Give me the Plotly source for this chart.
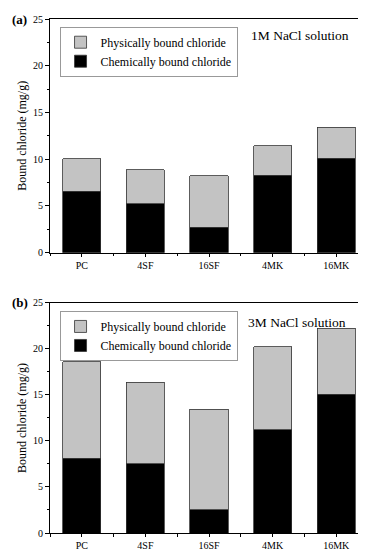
import plotly.graph_objects as go

categories = ["PC", "4SF", "16SF", "4MK", "16MK"]
total_1m = [10.05, 8.85, 8.25, 11.45, 13.4]
chem_1m = [6.55, 5.25, 2.7, 8.3, 10.1]
total_3m = [18.6, 16.4, 13.45, 20.25, 22.25]
chem_3m = [8.1, 7.5, 2.5, 11.2, 15.1]
phys_1m = [t - c for t, c in zip(total_1m, chem_1m)]
phys_3m = [t - c for t, c in zip(total_3m, chem_3m)]
yticks = [0, 5, 10, 15, 20, 25]

FONT = "Liberation Serif"
GRAY = "#c3c3c3"
xs = list(range(len(categories)))

fig = go.Figure()
line = dict(color="#333333", width=0.8)
fig.add_trace(go.Bar(x=xs, y=chem_1m, name="Chemically bound chloride", marker=dict(color="black", line=line),
                     width=0.6, xaxis="x", yaxis="y", legend="legend"))
fig.add_trace(go.Bar(x=xs, y=phys_1m, name="Physically bound chloride", marker=dict(color=GRAY, line=line),
                     width=0.6, xaxis="x", yaxis="y", legend="legend"))
fig.add_trace(go.Bar(x=xs, y=chem_3m, name="Chemically bound chloride", marker=dict(color="black", line=line),
                     width=0.6, xaxis="x2", yaxis="y2", legend="legend2"))
fig.add_trace(go.Bar(x=xs, y=phys_3m, name="Physically bound chloride", marker=dict(color=GRAY, line=line),
                     width=0.6, xaxis="x2", yaxis="y2", legend="legend2"))

def xax(anchor):
    return dict(anchor=anchor, range=[-0.5, 4.5], tickvals=xs, ticktext=categories,
                ticks="outside", ticklen=3, tickcolor="black", showline=True, linecolor="black",
                linewidth=1, mirror=True, showgrid=False, zeroline=False,
                tickfont=dict(family=FONT, size=10, color="black"),
                minor=dict(tickvals=[-0.5, 0.5, 1.5, 2.5, 3.5, 4.5], ticks="outside", ticklen=2.5, tickcolor="black"))

def yax(anchor, domain):
    return dict(anchor=anchor, domain=domain, range=[0, 25], tickvals=yticks,
                ticks="outside", ticklen=4, tickcolor="black", showline=True, linecolor="black",
                linewidth=1, mirror=True, showgrid=False, zeroline=False,
                tickfont=dict(family=FONT, size=10, color="black"),
                title=dict(text="Bound chloride (mg/g)", font=dict(family=FONT, size=12, color="black"), standoff=3),
                minor=dict(dtick=2.5, tick0=0, ticks="outside", ticklen=2.5, tickcolor="black"))

leg = dict(traceorder="reversed", bgcolor="white", bordercolor="#999999", borderwidth=1,
           font=dict(family=FONT, size=12, color="black"), xanchor="left", yanchor="top",
           itemwidth=30, tracegroupgap=0)

fig.update_layout(
    width=366, height=550,
    font=dict(family=FONT, color="black"),
    margin=dict(l=42, r=6, t=11, b=25),
    paper_bgcolor="white", plot_bgcolor="white",
    barmode="stack",
    xaxis=xax("y"), yaxis=yax("x", [0.5453, 1.0]),
    xaxis2=xax("y2"), yaxis2=yax("x2", [0.0, 0.4475]),
    legend=dict(leg, x=0.03, y=0.985),
    legend2=dict(leg, x=0.03, y=0.432),
    annotations=[
        dict(text="<b>(a)</b>", x=-0.125, y=1.0, xref="paper", yref="paper", xanchor="left", yanchor="middle",
             showarrow=False, font=dict(family=FONT, size=13, color="black")),
        dict(text="1M NaCl solution", x=0.625, y=0.967, xref="paper", yref="paper", xanchor="left", yanchor="middle",
             showarrow=False, font=dict(family=FONT, size=13.5, color="black")),
        dict(text="<b>(b)</b>", x=-0.125, y=0.4475, xref="paper", yref="paper", xanchor="left", yanchor="middle",
             showarrow=False, font=dict(family=FONT, size=13, color="black")),
        dict(text="3M NaCl solution", x=0.615, y=0.41, xref="paper", yref="paper", xanchor="left", yanchor="middle",
             showarrow=False, font=dict(family=FONT, size=13.5, color="black")),
    ],
    showlegend=True,
)

fig.write_html("out.html")
